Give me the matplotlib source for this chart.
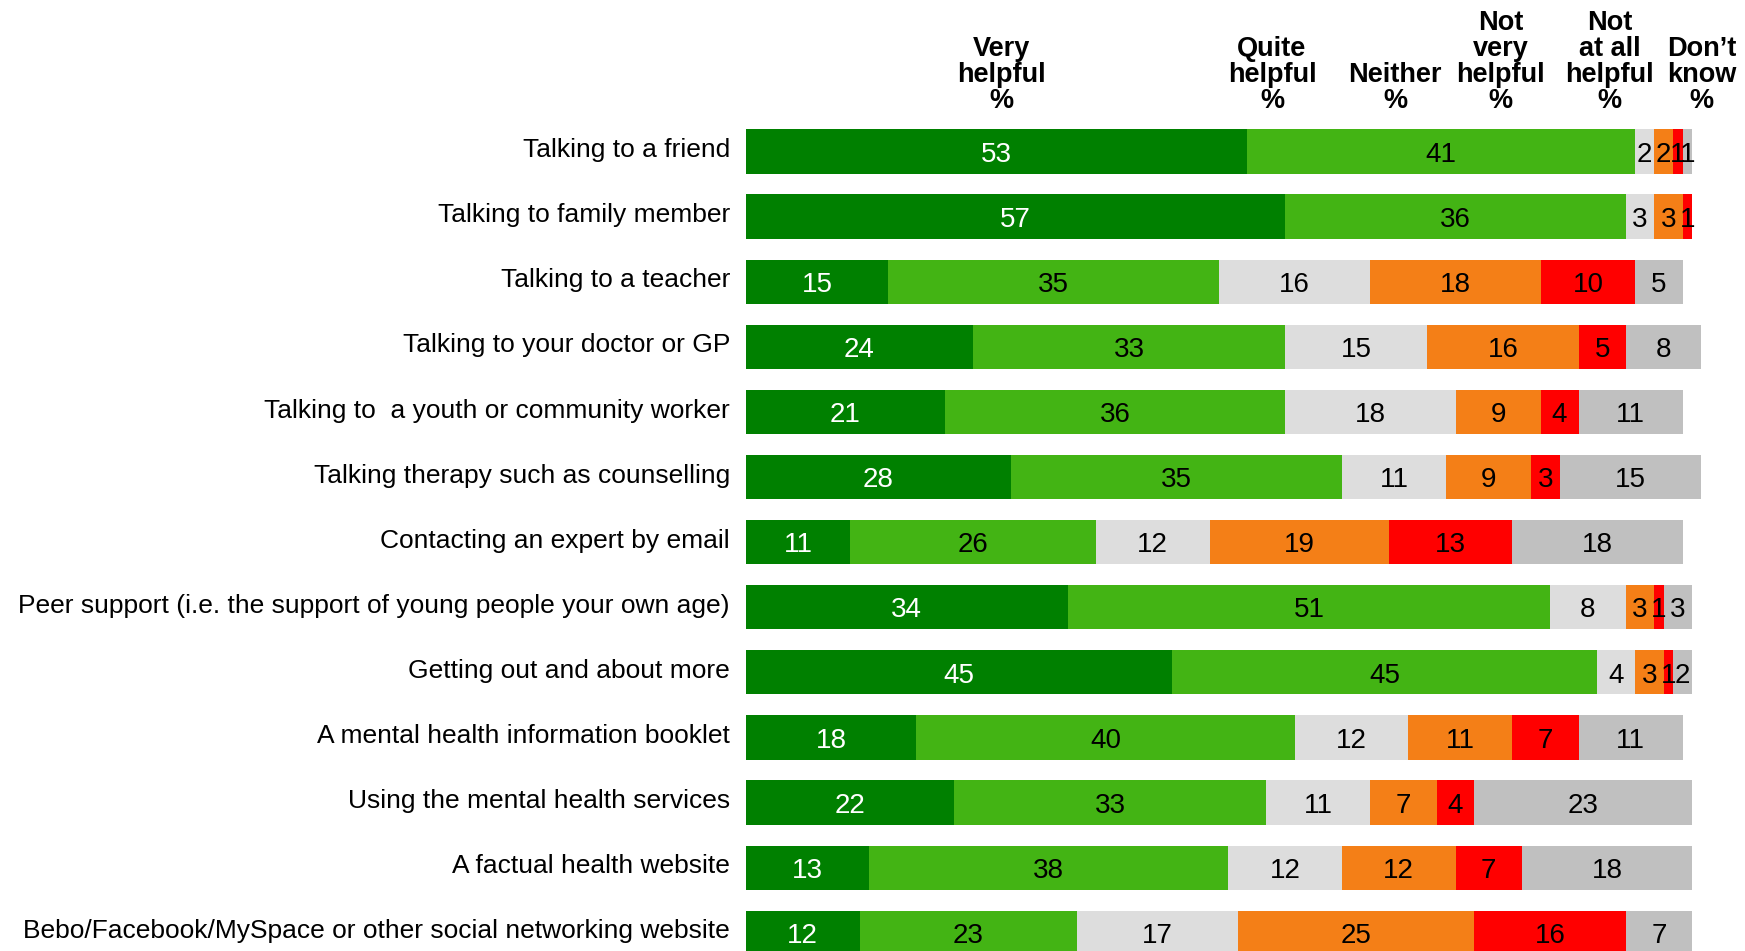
import matplotlib
matplotlib.use("Agg")
import matplotlib.pyplot as plt

items = [
    "Talking to a friend",
    "Talking to family member",
    "Talking to a teacher",
    "Talking to your doctor or GP",
    "Talking to  a youth or community worker",
    "Talking therapy such as counselling",
    "Contacting an expert by email",
    "Peer support (i.e. the support of young people your own age)",
    "Getting out and about more",
    "A mental health information booklet",
    "Using the mental health services",
    "A factual health website",
    "Bebo/Facebook/MySpace or other social networking website",
]
categories = ["Very\nhelpful\n%", "Quite\nhelpful\n%", "Neither\n%",
              "Not\nvery\nhelpful\n%", "Not\nat all\nhelpful\n%", "Don\u2019t\nknow\n%"]
very_helpful = [53, 57, 15, 24, 21, 28, 11, 34, 45, 18, 22, 13, 12]
quite_helpful = [41, 36, 35, 33, 36, 35, 26, 51, 45, 40, 33, 38, 23]
neither = [2, 3, 16, 15, 18, 11, 12, 8, 4, 12, 11, 12, 17]
not_very = [2, 3, 18, 16, 9, 9, 19, 3, 3, 11, 7, 12, 25]
not_at_all = [1, 1, 10, 5, 4, 3, 13, 1, 1, 7, 4, 7, 16]
dont_know = [1, 0, 5, 8, 11, 15, 18, 3, 2, 11, 23, 18, 7]

series = [very_helpful, quite_helpful, neither, not_very, not_at_all, dont_know]
colors = ["#008000", "#43B414", "#DDDDDD", "#F47F17", "#FF0000", "#C0C0C0"]
text_colors = ["white", "black", "black", "black", "black", "black"]
header_x = [27, 55.6, 68.6, 79.8, 91.3, 101]

font = ["Liberation Sans", "DejaVu Sans"]

fig = plt.figure(figsize=(17.45, 9.51), dpi=100)
ax = fig.add_axes([746 / 1745, 0, 999 / 1745, 1])
ax.set_xlim(0, 105.6)
ax.set_ylim(12.28, -2.326)
ax.axis("off")

left = [0] * len(items)
for vals, col, tcol in zip(series, colors, text_colors):
    ax.barh(range(len(items)), vals, left=left, height=0.68, color=col)
    for i, v in enumerate(vals):
        if v > 0:
            ax.text(left[i] + v / 2, i + 0.05, str(v), ha="center", va="center",
                    color=tcol, fontsize=20, family=font)
    left = [a + b for a, b in zip(left, vals)]

for i, name in enumerate(items):
    ax.text(-1.7, i - 0.02, name, ha="right", va="center", fontsize=19,
            family=font)

for x, cat in zip(header_x, categories):
    ax.text(x, -0.58, cat, ha="center", va="bottom", fontsize=19.5,
            fontweight="bold", family=font, linespacing=1.0)

fig.savefig("out.png", dpi=100)
